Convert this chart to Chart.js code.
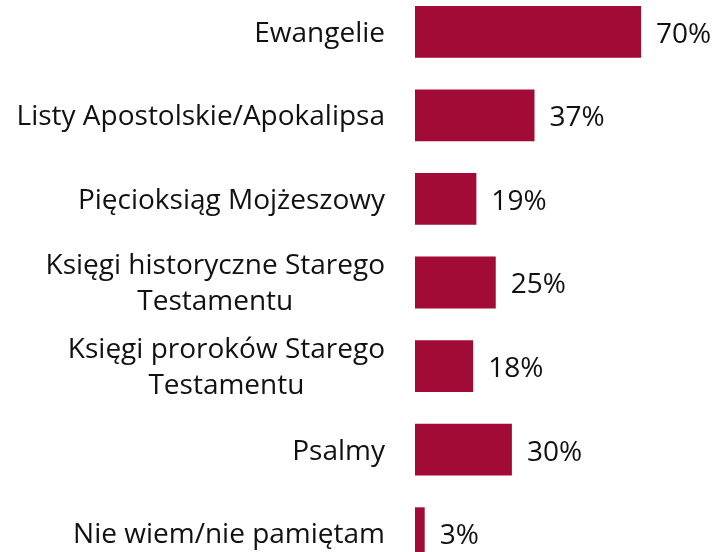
<!DOCTYPE html>
<html>
<head>
<meta charset="utf-8">
<script src="https://cdn.jsdelivr.net/npm/chart.js@4"></script>
<style>
  html, body { margin: 0; padding: 0; background: #fff; overflow: hidden; }
  #wrap { position: absolute; left: 0; top: -10px; width: 717px; height: 585px; }
</style>
</head>
<body>
<div id="wrap"><canvas id="myChart"></canvas></div>
<script>
const categories = [
  ['Ewangelie'],
  ['Listy Apostolskie/Apokalipsa'],
  ['Pięcioksiąg Mojżeszowy'],
  ['Księgi historyczne Starego', 'Testamentu'],
  ['Księgi proroków Starego', 'Testamentu'],
  ['Psalmy'],
  ['Nie wiem/nie pamiętam']
];
const values = [70, 37, 19, 25, 18, 30, 3];
const valueLabels = ['70%', '37%', '19%', '25%', '18%', '30%', '3%'];

const FONT = '28px "Open Sans"';

// labels drawn by hand so the two-line ones are centred on each other
const labelPlugin = {
  id: 'labels',
  afterDatasetsDraw(chart) {
    const ctx = chart.ctx;
    const yScale = chart.scales.y;
    const bars = chart.getDatasetMeta(0).data;
    ctx.save();
    ctx.font = FONT;
    ctx.fillStyle = '#111';
    ctx.textBaseline = 'middle';
    categories.forEach((lines, i) => {
      const y = yScale.getPixelForValue(i) + 2;
      const w = Math.max(...lines.map(l => ctx.measureText(l).width));
      const cx = 385 - w / 2;
      const lh = 36;
      ctx.textAlign = 'center';
      lines.forEach((l, j) => {
        ctx.fillText(l, cx, y + (j - (lines.length - 1) / 2) * lh);
      });
      ctx.textAlign = 'left';
      ctx.fillText(valueLabels[i], bars[i].x + 15, bars[i].y + 3);
    });
    ctx.restore();
  }
};

const ctx = document.getElementById('myChart').getContext('2d');
const myChart = new Chart(ctx, {
  type: 'bar',
  data: {
    labels: categories,
    datasets: [{
      data: values,
      backgroundColor: '#A10B35',
      barPercentage: 0.62,
      categoryPercentage: 1
    }]
  },
  options: {
    indexAxis: 'y',
    responsive: true,
    maintainAspectRatio: false,
    animation: false,
    layout: { padding: { left: 415, right: 0, top: 0, bottom: 0 } },
    plugins: { legend: { display: false }, tooltip: { enabled: false } },
    scales: {
      x: { display: false, min: 0, max: 93.5 },
      y: { display: false }
    }
  },
  plugins: [labelPlugin]
});
</script>
</body>
</html>
